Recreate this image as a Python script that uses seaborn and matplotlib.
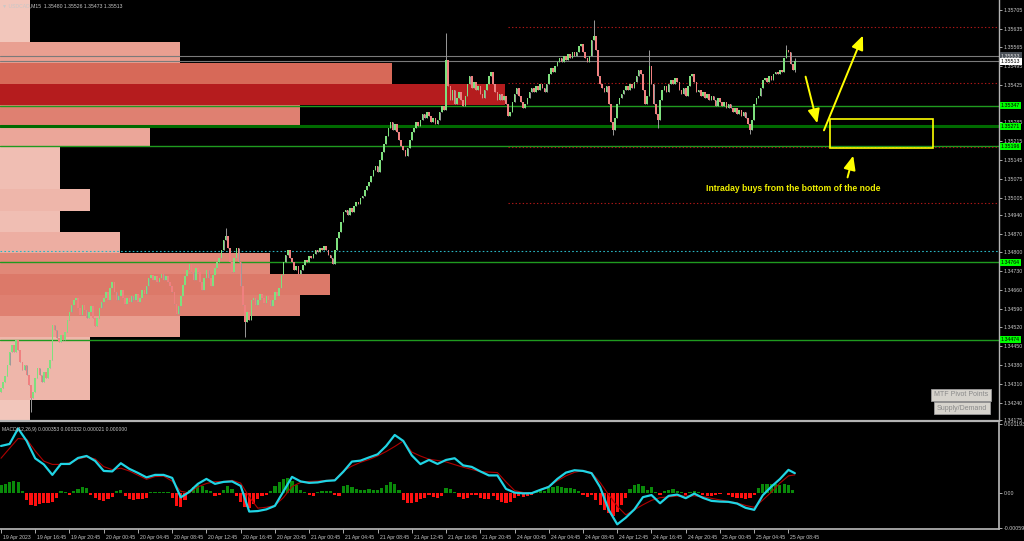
import numpy as np
import seaborn as sns
import matplotlib.pyplot as plt
from matplotlib.colors import LinearSegmentedColormap
from matplotlib.patches import Rectangle
from matplotlib.transforms import blended_transform_factory, ScaledTranslation

# USDCAD M15 closes, in points above 1.30000 (one per bar, 19 Apr 12:45 onwards)
close_pts = [
    4294, 4316, 4339, 4380, 4428, 4454, 4428, 4473, 4436, 4391, 4361, 4380, 4342, 4305, 4257, 4279,
    4331, 4369, 4342, 4316, 4354, 4331, 4369, 4399,
    4529, 4510, 4481, 4466, 4492, 4473, 4503, 4548, 4578, 4604, 4622, 4630, 4593, 4566, 4604, 4585,
    4555, 4578, 4600, 4555, 4525, 4555, 4593, 4615,
    4630, 4652, 4622, 4667, 4690, 4652, 4622, 4637, 4660, 4630, 4607, 4630, 4615, 4637, 4622, 4645,
    4615, 4630, 4660, 4645, 4675, 4705, 4716, 4697, 4712, 4690, 4705, 4719, 4697, 4712, 4690, 4675,
    4652, 4607, 4570, 4600, 4637, 4678, 4712, 4734, 4757, 4727, 4697, 4742, 4727, 4690,
    4660, 4705, 4734, 4705, 4675, 4716, 4742, 4764, 4779, 4809, 4846, 4861, 4816, 4764, 4727, 4779,
    4816, 4764, 4675, 4604, 4540, 4578, 4548, 4622, 4630, 4604, 4622, 4645, 4630, 4611, 4637, 4622,
    4600, 4622, 4652, 4637, 4667, 4716, 4764, 4790, 4809, 4779, 4764, 4734, 4749, 4719, 4734,
    4753, 4772, 4764, 4787, 4779, 4794, 4809, 4802, 4816, 4809, 4824, 4809, 4790, 4779, 4757, 4809,
    4854, 4876, 4913, 4951, 4958, 4940, 4966, 4951, 4973, 4988, 4981, 5003, 5011, 5033, 5048, 5063,
    5085, 5108, 5122, 5100, 5145, 5175, 5205, 5234, 5264, 5287, 5257, 5279, 5249, 5220,
    5197, 5182, 5160, 5190, 5220, 5249, 5264, 5287, 5272, 5294, 5317, 5302, 5324, 5309, 5287, 5302,
    5279, 5294, 5324, 5346, 5331, 5518, 5421, 5369, 5406, 5354, 5376, 5399, 5369, 5346, 5384, 5429,
    5458, 5414, 5436, 5406, 5421, 5391, 5376, 5406, 5429, 5458, 5473, 5429, 5399, 5369, 5391,
    5369, 5384, 5354, 5309, 5324, 5361, 5391, 5414, 5384, 5361, 5339, 5354, 5376, 5399, 5414, 5399,
    5421, 5406, 5429, 5414, 5399, 5429, 5466, 5488, 5473, 5496, 5511, 5526, 5511, 5533, 5518, 5540,
    5526, 5548, 5533, 5548, 5570, 5578, 5548, 5526, 5511, 5533, 5593, 5608, 5555, 5458, 5429,
    5414, 5399, 5421, 5354, 5287, 5257, 5302, 5354, 5376, 5391, 5406, 5421, 5406, 5429, 5414, 5436,
    5458, 5481, 5466, 5406, 5354, 5384, 5496, 5429, 5354, 5317, 5294, 5369, 5406, 5421, 5399, 5429,
    5443, 5429, 5451, 5436, 5406, 5391, 5414, 5384, 5421, 5458, 5466, 5436, 5399, 5406, 5384,
    5399, 5376, 5391, 5369, 5384, 5369, 5346, 5376, 5361, 5346, 5361, 5339, 5354, 5339, 5324, 5339,
    5317, 5331, 5309, 5324, 5302, 5279, 5257, 5294, 5354, 5376, 5384, 5414, 5443, 5451, 5436, 5458,
    5443, 5466, 5473, 5466, 5481, 5473, 5526, 5555, 5548, 5503, 5480, 5513,
]
first_open = 4280
wick_high = {105: 4891, 208: 5619, 277: 5667, 303: 5555, 367: 5574, 371: 5526}
wick_low = {14: 4205, 114: 4485, 286: 5238, 307: 5264, 350: 5242, 371: 5473}

# volume profile: bin edges (top to bottom) and relative volume per bin
profile_edges = [1.35742, 1.35663, 1.35585, 1.35506, 1.35427, 1.35349, 1.35270, 1.35192, 1.35113,
                 1.35035, 1.34956, 1.34878, 1.34799, 1.34721, 1.34642, 1.34564, 1.34485, 1.34407,
                 1.34328, 1.34250, 1.34171]
profile_vol = [30, 30, 180, 392, 505, 300, 150, 60, 60, 90, 60, 120, 270, 330, 300, 180, 90, 90, 90, 30]

levels_green = [1.35347, 1.35271, 1.35196, 1.34764, 1.34474]
levels_pivot = [1.35641, 1.35432, 1.35193, 1.34984]
level_cyan = 1.34805
levels_gray = [1.35533, 1.35513]

price_ticks = [1.35705, 1.35635, 1.35565, 1.35495, 1.35425, 1.35355, 1.35285, 1.35215, 1.35145,
               1.35075, 1.35005, 1.34940, 1.34870, 1.34800, 1.34730, 1.34660, 1.34590, 1.34520,
               1.34450, 1.34380, 1.34310, 1.34240, 1.34175]
time_labels = ["19 Apr 2023", "19 Apr 16:45", "19 Apr 20:45", "20 Apr 00:45", "20 Apr 04:45",
               "20 Apr 08:45", "20 Apr 12:45", "20 Apr 16:45", "20 Apr 20:45", "21 Apr 00:45",
               "21 Apr 04:45", "21 Apr 08:45", "21 Apr 12:45", "21 Apr 16:45", "21 Apr 20:45",
               "24 Apr 00:45", "24 Apr 04:45", "24 Apr 08:45", "24 Apr 12:45", "24 Apr 16:45",
               "24 Apr 20:45", "25 Apr 00:45", "25 Apr 04:45", "25 Apr 08:45"]

# MACD(12,26,9) in millionths, sampled every 4 bars
macd_bars = list(range(0, 369, 4)) + [371]
macd_main = [816, 850, 1116, 902, 602, 499, 319, 507, 507, 610,
             644, 559, 387, 379, 519, 422, 353, 276, 319, 319,
             267, -67, 27, 165, 250, 165, 199, 207, 130, -310,
             -302, -273, -213, 36, 285, 207, 182, 190, 216, 225,
             374, 548, 564, 619, 672, 816, 1004, 902, 653, 504,
             576, 507, 576, 605, 482, 456, 379, 310, 310, 79,
             15, 2, 5, 62, 113, 250, 358, 399, 387, 348,
             108, -281, -530, -415, -273, -63, -27, -168, -41, -19,
             -81, -3, -75, -127, -139, -144, -173, -247, -281, -31,
             117, 247, 405, 348]
macd_signal = [605, 776, 944, 929, 730, 555, 499, 499, 524, 590,
               629, 593, 461, 408, 434, 386, 314, 243, 290, 298,
               211, 38, 10, 113, 171, 204, 204, 225, 178, -58,
               -252, -237, -206, -70, 118, 190, 206, 213, 223, 237,
               389, 470, 535, 583, 644, 720, 807, 902, 711, 643,
               588, 566, 542, 495, 451, 413, 375, 367, 358, 199,
               51, 17, 7, 62, 122, 218, 302, 363, 393, 358,
               187, -24, -219, -367, -279, -194, -118, -72, -58, -45,
               -41, -41, -53, -84, -110, -139, -161, -206, -237, -113,
               24, 178, 302, 319]
# histogram, every 2 bars
hist_bars = list(range(0, 372, 2))
hist_vals = [150, 170, 190, 220, 200, 40, -120, -200, -210, -180,
             -170, -170, -150, -80, 50, 30, -30, 40, 80, 110,
             90, -20, -80, -120, -130, -100, -60, 50, 60, -50,
             -90, -110, -100, -100, -70, 20, 30, 30, 30, 20,
             -80, -210, -230, -120, 60, 110, 140, 130, 60, 40,
             -40, -20, 60, 120, 80, -40, -150, -240, -250, -180,
             -100, -40, -20, 50, 120, 200, 250, 260, 220, 140,
             60, 30, -30, -50, 20, 40, 50, 40, -30, -50,
             130, 150, 110, 80, 60, 60, 70, 60, 60, 90,
             150, 190, 170, 60, -120, -160, -170, -150, -100, -70,
             -30, -60, -70, -40, 100, 80, 20, -60, -100, -80,
             -20, -30, -80, -100, -90, -40, -110, -150, -170, -140,
             -80, -40, -60, -50, -20, 50, 60, 40, 90, 110,
             120, 110, 100, 90, 70, 40, -30, -60, -20, -120,
             -200, -280, -340, -380, -310, -200, -80, 80, 140, 170,
             120, 60, 110, 30, -30, 40, 60, 70, 50, 20,
             -30, 30, 50, 20, -20, -50, -40, -30, -10, 10,
             -30, -60, -70, -80, -90, -70, -30, 90, 160, 170,
             170, 160, 150, 160, 150, 60]

sns.set_theme(style="dark", rc={"axes.facecolor": "black", "figure.facecolor": "black",
                                "axes.grid": False})
plt.rcParams['font.family'] = ['Liberation Sans', 'DejaVu Sans']

TXT = '#c8c8c8'
AX = '#b4b4b4'
XMAX = 466.4

fig = plt.figure(figsize=(10.24, 5.41), dpi=100)
ax = fig.add_axes([0, 1 - 421 / 541, 999 / 1024, 421 / 541])
axm = fig.add_axes([0, 1 - 529 / 541, 999 / 1024, 106 / 541])

# volume profile on its own horizontal scale, behind the candles
axp = ax.twiny()
ax.set_zorder(2)
axp.set_zorder(1)
ax.patch.set_visible(False)
edges = np.array(profile_edges)
vol = np.array(profile_vol, dtype=float)
cmap = LinearSegmentedColormap.from_list(
    "vp", [(0, "#f2c6bb"), (0.35, "#e89a8c"), (0.78, "#d66756"), (1.0, "#b51c1e")])
cols = [cmap((v - vol.min()) / (vol.max() - vol.min())) for v in vol]
axp.barh(edges[1:], vol, height=edges[:-1] - edges[1:], left=0, align='edge',
         color=cols, linewidth=0)
axp.set_xlim(0, 999)
axp.set_xticks([])
for s in axp.spines.values():
    s.set_visible(False)

# candles
close = 1.3 + np.array(close_pts) / 1e5
bars = np.arange(len(close))
open_ = np.r_[1.3 + first_open / 1e5, close[:-1]]
high = np.maximum(open_, close)
low = np.minimum(open_, close)
for i, v in wick_high.items():
    high[i] = 1.3 + v / 1e5
for i, v in wick_low.items():
    low[i] = 1.3 + v / 1e5
up = close >= open_

# horizontal levels
for p in levels_gray:
    ax.axhline(p, color='#7a7a7a', lw=0.8, zorder=2)
for p, lw, c in zip(levels_green, [1.0, 2.2, 1.0, 1.0, 1.0],
                    ['#1f9a1f', '#006a00', '#1f9a1f', '#1f9a1f', '#1f9a1f']):
    ax.axhline(p, color=c, lw=lw, zorder=2)
ax.axhline(level_cyan, color='#2ab4c0', lw=0.8, ls=(0, (1.5, 2)), zorder=2)
ax.hlines(levels_pivot, 237, XMAX, colors='#b01818', lw=0.8, linestyles=(0, (1.2, 2)), zorder=2)

ax.vlines(bars, low, high, color='#9a9a9a', lw=0.7, zorder=3)
ax.bar(bars[up], (close - open_)[up], bottom=open_[up], width=0.75, color='#7ee07e', lw=0, zorder=4)
ax.bar(bars[~up], (open_ - close)[~up], bottom=close[~up], width=0.75, color='#f08080', lw=0, zorder=4)

ax.set_xlim(-0.47, XMAX)
ax.set_ylim(profile_edges[-1], profile_edges[0])
ax.set_xticks([])
ax.yaxis.tick_right()
ax.set_yticks(price_ticks)
# the 1.35355 label sits under the 1.35347 marker box on the terminal, so it is left blank
ax.set_yticklabels(["" if abs(p - 1.35355) < 1e-7 else f"{p:.5f}" for p in price_ticks])
ax.tick_params(axis='y', right=True, left=False, labelright=True, labelleft=False,
               labelsize=3.8, colors=TXT, length=2, width=0.6, pad=1.5)
for name, s in ax.spines.items():
    s.set_visible(name in ('right', 'bottom'))
    s.set_color(AX)
ax.spines['bottom'].set_linewidth(1.6)
ax.spines['right'].set_linewidth(1.0)

# highlighted price labels on the right axis
tr = blended_transform_factory(ax.transAxes, ax.transData)
lab = dict(transform=tr, fontsize=3.8, va='center', ha='left', clip_on=False, zorder=10)
ax.text(1.002, levels_gray[0], f"{levels_gray[0]:.5f}", color='#e0e0e0',
        bbox=dict(boxstyle='square,pad=0.2', fc='#4a5058', ec='none'), **lab)
ax.text(1.002, levels_gray[1], f"{levels_gray[1]:.5f}", color='black',
        bbox=dict(boxstyle='square,pad=0.2', fc='white', ec='none'), **lab)
for p in levels_green:
    ax.text(1.002, p, f"{p:.5f}", color='black',
            bbox=dict(boxstyle='square,pad=0.2', fc='#00ff00', ec='none'), **lab)

# annotation
yel = '#ffff00'
ax.add_patch(Rectangle((387.4, 1.35190), 48.1, 0.00108, fill=False, ec=yel, lw=1.2, zorder=6))
arrow = dict(arrowstyle='-|>,head_length=0.7,head_width=0.3', color=yel, lw=1.4)
ax.annotate('', xy=(381.8, 1.35272), xytext=(375.7, 1.35466), arrowprops=arrow, zorder=6)
ax.annotate('', xy=(403.3, 1.35619), xytext=(384.1, 1.35246), arrowprops=arrow, zorder=6)
ax.annotate('', xy=(398.6, 1.35171), xytext=(395.3, 1.35070), arrowprops=arrow, zorder=6)
ax.text(329.4, 1.35040, "Intraday buys from the bottom of the node", color='#f0f000',
        fontsize=6.2, fontweight='bold', va='center', ha='left', zorder=6)

# MACD panel
axm.bar(hist_bars, np.array(hist_vals) / 1e6, width=1.5,
        color=['#0a8a0a' if v >= 0 else '#ff1010' for v in hist_vals], lw=0)
sns.lineplot(x=macd_bars, y=np.array(macd_signal) / 1e6, ax=axm, color='#b00000', lw=0.8,
             estimator=None, legend=False)
sns.lineplot(x=macd_bars, y=np.array(macd_main) / 1e6, ax=axm, color='#20d4e4', lw=1.6,
             estimator=None, legend=False)
axm.set_xlim(-0.47, XMAX)
axm.set_ylim(-0.00061, 0.00121)
axm.yaxis.tick_right()
axm.set_yticks([0.001193, 0.0, -0.00059])
axm.set_yticklabels(["0.001193", "0.00", "-0.00059"])
axm.tick_params(axis='y', right=True, left=False, labelright=True, labelleft=False,
                labelsize=3.8, colors=TXT, length=2, width=0.6, pad=1.5)
axm.set_xticks(range(0, 16 * len(time_labels), 16))
axm.set_xticklabels(time_labels, ha='left')
axm.tick_params(axis='x', bottom=True, labelsize=3.7, colors=TXT, length=3, width=0.6, pad=1)
off = ScaledTranslation(2 / 100, 0, fig.dpi_scale_trans)
for t in axm.get_xticklabels():
    t.set_transform(t.get_transform() + off)
axm.set_xlabel('')
axm.set_ylabel('')
for name, s in axm.spines.items():
    s.set_visible(name in ('right', 'bottom'))
    s.set_color(AX)
axm.text(0.002, 0.965, "MACD(12,26,9) 0.000353 0.000332 0.000021 0.000000", transform=axm.transAxes,
         color=TXT, fontsize=3.6, va='top', ha='left')

# header and buttons
fig.text(0.002, 0.994, "\u25bc USDCAD,M15  1.35480 1.35526 1.35473 1.35513", color=TXT,
         fontsize=3.7, va='top', ha='left')
btn = dict(color='#8a8a8a', fontsize=5, ha='center', va='center',
           bbox=dict(boxstyle='square,pad=0.35', fc='#d6d3cc', ec='#9a9a9a', lw=0.6))
fig.text(961 / 1024, 1 - 395 / 541, "MTF Pivot Points", **btn)
fig.text(962 / 1024, 1 - 408 / 541, "Supply/Demand", **btn)

fig.savefig("out.png", dpi=100, facecolor='black')
